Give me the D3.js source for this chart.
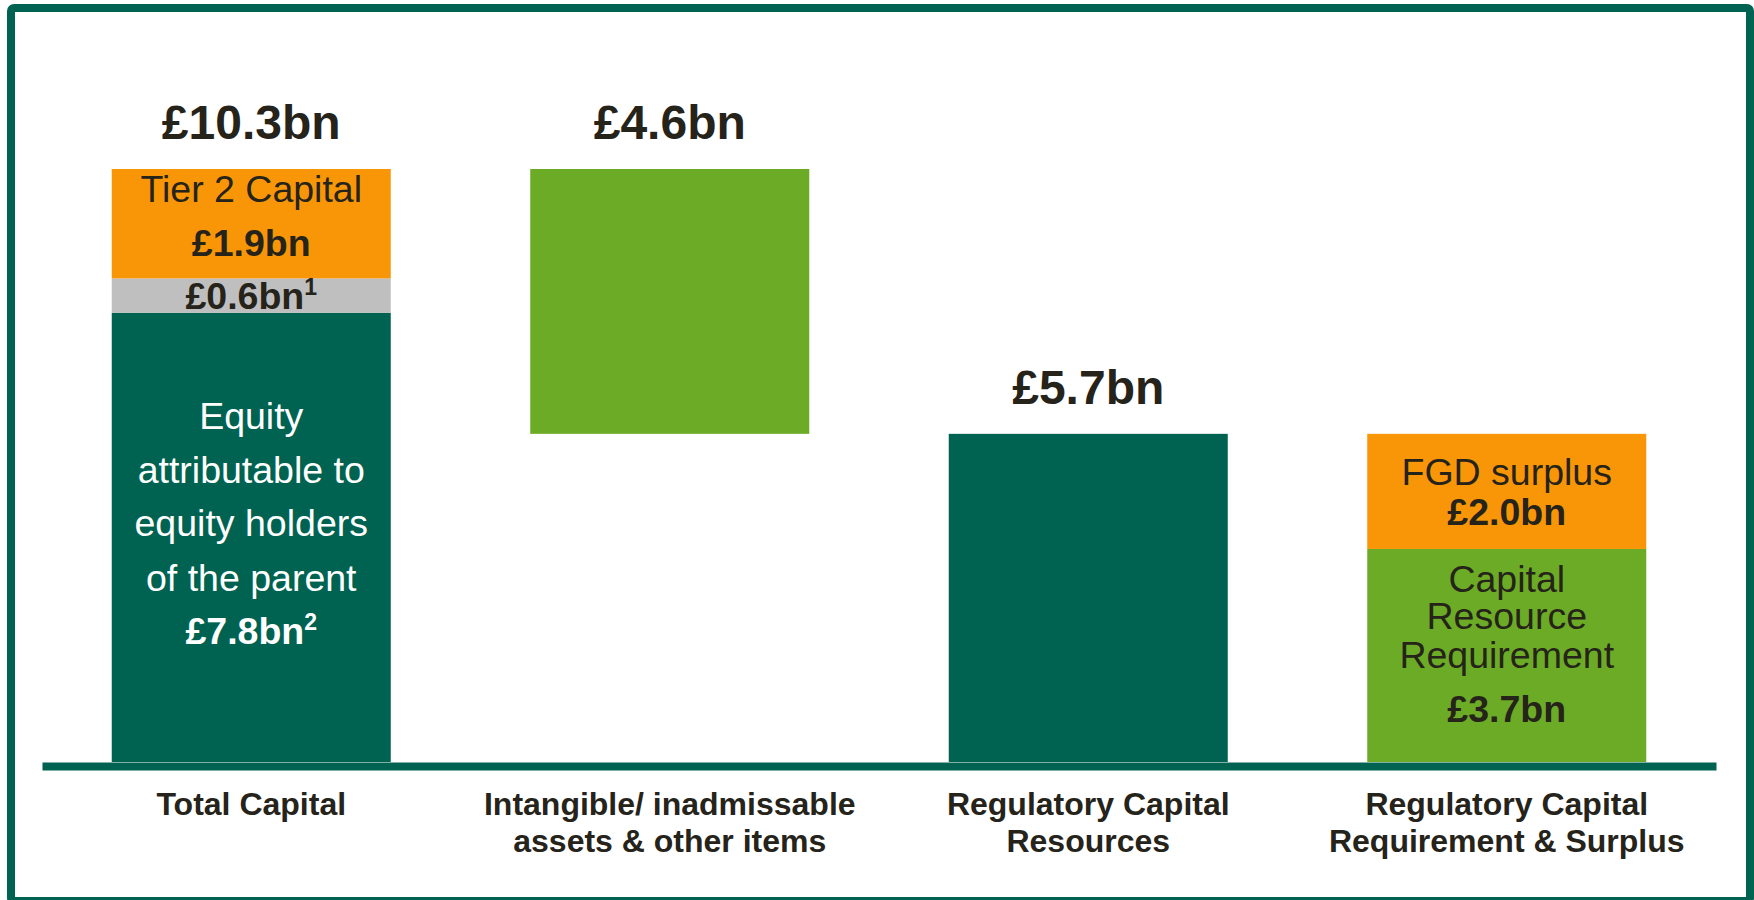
<!DOCTYPE html>
<html lang="en">
<head>
    <meta charset="UTF-8">
    <title>Capital Position</title>
    <script src="https://d3js.org/d3.v7.min.js"></script>
    <style>
        body {
            margin: 0;
            background: #ffffff;
            font-family: "Liberation Sans", Arial, sans-serif;
        }
        text {
            font-family: "Liberation Sans", Arial, sans-serif;
        }
        .cat-label {
            font-size: 32px;
            font-weight: bold;
            fill: #25231a;
        }
        .total-label {
            font-size: 48px;
            font-weight: bold;
            fill: #25231a;
        }
        .seg-label {
            font-size: 37.5px;
        }
    </style>
</head>
<body>
    <div id="chart"></div>

    <script>
        // Categories (x axis), split into display lines
        const categories = ["Total Capital", "Intangible", "Resources", "Requirement"];
        const categoryLines = [
            ["Total Capital"],
            ["Intangible/ inadmissable", "assets & other items"],
            ["Regulatory Capital", "Resources"],
            ["Regulatory Capital", "Requirement & Surplus"]
        ];

        // Total labels above each bar
        const totalValues = [10.3, 10.3, 5.7];
        const totalLabels = ["£10.3bn", "£4.6bn", "£5.7bn"];

        // Bar segments (£bn)
        const segCategory = ["Total Capital", "Total Capital", "Total Capital", "Intangible", "Resources", "Requirement", "Requirement"];
        const segBase     = [0,   7.8, 8.4, 5.7, 0,   0,   3.7];
        const segValue    = [7.8, 0.6, 1.9, 4.6, 5.7, 3.7, 2.0];
        const segKind     = ["equity", "other", "tier2", "deduction", "resources", "requirement", "surplus"];
        const segLabels = [
            ["Equity", "attributable to", "equity holders", "of the parent", "£7.8bn^2"],
            ["£0.6bn^1"],
            ["Tier 2 Capital", "£1.9bn"],
            [],
            [],
            ["Capital", "Resource", "Requirement", "£3.7bn"],
            ["FGD surplus", "£2.0bn"]
        ];

        const colors = {
            equity: "#006351",
            other: "#bfbfbf",
            tier2: "#f99607",
            deduction: "#6cab26",
            resources: "#006351",
            requirement: "#6cab26",
            surplus: "#f99607"
        };
        // baseline offsets of label lines from segment top (px)
        const labelOffsets = [[116, 170, 223, 278, 331], [31], [33, 87], [], [], [43, 80, 119, 173], [51, 91]];

        const W = 1754, H = 900;
        const svg = d3.select("#chart").append("svg")
            .attr("width", W)
            .attr("height", H);

        // Outer frame
        svg.append("rect")
            .attr("x", 11).attr("y", 8)
            .attr("width", 1739).attr("height", 893)
            .attr("rx", 3)
            .attr("fill", "none")
            .attr("stroke", "#006351")
            .attr("stroke-width", 8);

        const x = d3.scaleBand()
            .domain(categories)
            .range([42, 1716])
            .paddingInner(1 / 3)
            .paddingOuter(1 / 6);

        const y = d3.scaleLinear()
            .domain([0, 10.3])
            .range([762, 169]);

        const segments = segValue.map((v, i) => ({
            cat: segCategory[i], base: segBase[i], value: v,
            kind: segKind[i], lines: segLabels[i], offsets: labelOffsets[i]
        }));

        // Bars
        svg.selectAll(".seg")
            .data(segments)
            .enter().append("rect")
            .attr("class", "seg")
            .attr("x", d => x(d.cat))
            .attr("y", d => y(d.base + d.value))
            .attr("width", x.bandwidth())
            .attr("height", d => y(d.base) - y(d.base + d.value))
            .attr("fill", d => colors[d.kind]);

        // Segment labels
        segments.forEach(d => {
            const cx = x(d.cat) + x.bandwidth() / 2;
            const top = y(d.base + d.value);
            const fill = d.kind === "equity" ? "#ffffff" : "#25231a";
            d.lines.forEach((line, j) => {
                const parts = line.split("^");
                const t = svg.append("text")
                    .attr("class", "seg-label")
                    .attr("x", cx)
                    .attr("y", top + d.offsets[j])
                    .attr("text-anchor", "middle")
                    .attr("fill", fill)
                    .style("font-weight", line.startsWith("£") ? "bold" : "normal");
                t.append("tspan").text(parts[0]);
                if (parts[1]) {
                    t.append("tspan")
                        .attr("dy", -14)
                        .style("font-size", "23px")
                        .text(parts[1]);
                }
            });
        });

        // Totals above bars
        svg.selectAll(".total-label")
            .data(totalLabels)
            .enter().append("text")
            .attr("class", "total-label")
            .attr("x", (d, i) => x(categories[i]) + x.bandwidth() / 2)
            .attr("y", (d, i) => y(totalValues[i]) - 30)
            .attr("text-anchor", "middle")
            .text(d => d);

        // x axis
        const axis = svg.append("g")
            .attr("transform", "translate(0,766)")
            .call(d3.axisBottom(x).tickSize(0).tickSizeOuter(0).tickFormat(""));

        axis.select(".domain")
            .attr("stroke", "#006351")
            .attr("stroke-width", 8);

        axis.selectAll(".tick text").remove();
        axis.selectAll(".tick")
            .append("text")
            .attr("class", "cat-label")
            .attr("text-anchor", "middle")
            .selectAll("tspan")
            .data((d, i) => categoryLines[i])
            .enter().append("tspan")
            .attr("x", 0)
            .attr("y", (d, j) => 49 + j * 37)
            .text(d => d);
    </script>
</body>
</html>
